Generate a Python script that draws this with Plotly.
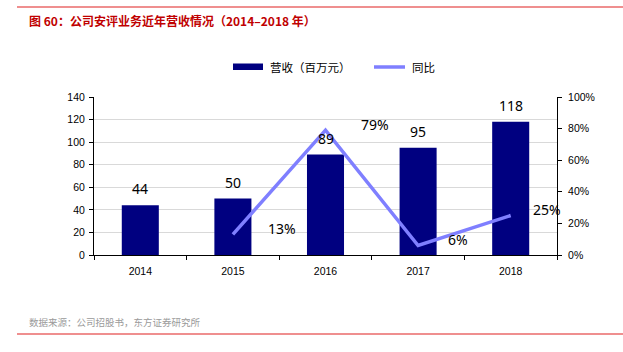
import plotly.graph_objects as go

years = ["2014", "2015", "2016", "2017", "2018"]
revenue = [44, 50, 89, 95, 118]
yoy_years = ["2015", "2016", "2017", "2018"]
yoy = [13, 79, 6, 25]
yoy_labels = ["13%", "79%", "6%", "25%"]

# label horizontal offsets (style only)
yoy_label_shift = [49, 49, 40, 36]

W, H = 623, 352
L, R, T, B = 94, 557, 97, 255

def px_x(p):
    return (p - L) / (R - L)

def px_y(p):
    return (B - p) / (B - T)

fig = go.Figure()
fig.add_trace(go.Bar(
    x=years, y=revenue, name="营收（百万元）",
    marker=dict(color="#000080", line=dict(width=0)), width=0.40,
    yaxis="y", showlegend=False,
))
fig.add_trace(go.Scatter(
    x=yoy_years, y=yoy, name="同比", mode="lines",
    line=dict(color="#7f7fff", width=3.5), yaxis="y2", showlegend=False,
))

lab_font = dict(family="Noto Sans, DejaVu Sans", size=14, color="#000000")
for x, v in zip(years, revenue):
    fig.add_annotation(x=years.index(x), y=v, yref="y", text=str(v), showarrow=False,
                       yanchor="bottom", yshift=5, font=lab_font)
for x, v, t, s in zip(yoy_years, yoy, yoy_labels, yoy_label_shift):
    fig.add_annotation(x=years.index(x), y=v, yref="y2", text=t, showarrow=False,
                       xshift=s, yshift=6, font=lab_font)

# title
fig.add_annotation(x=px_x(27), y=px_y(20), xref="paper", yref="paper",
                   text="<b>图 60：公司安评业务近年营收情况（2014–2018 年）</b>",
                   showarrow=False, xanchor="left", yanchor="middle",
                   font=dict(family="Noto Sans CJK SC", size=12, color="#c00000"))
# source
fig.add_annotation(x=px_x(27), y=px_y(322), xref="paper", yref="paper",
                   text="数据来源：公司招股书，东方证券研究所",
                   showarrow=False, xanchor="left", yanchor="middle",
                   font=dict(family="Noto Sans CJK SC", size=9.5, color="#9a9a9a"))
# red rules
for py in (7, 334):
    fig.add_shape(type="line", xref="paper", yref="paper",
                  x0=px_x(17), x1=px_x(623), y0=px_y(py), y1=px_y(py),
                  line=dict(color="#e02020", width=1.2))

# manual legend
fig.add_shape(type="rect", xref="paper", yref="paper",
              x0=px_x(233), x1=px_x(263), y0=px_y(63.5), y1=px_y(70),
              fillcolor="#000080", line=dict(width=0))
fig.add_annotation(x=px_x(268), y=px_y(67), xref="paper", yref="paper",
                   text="营收（百万元）", showarrow=False, xanchor="left", yanchor="middle",
                   font=dict(family="Noto Sans CJK SC", size=11.5, color="#000000"))
fig.add_shape(type="line", xref="paper", yref="paper",
              x0=px_x(374), x1=px_x(405), y0=px_y(67), y1=px_y(67),
              line=dict(color="#7f7fff", width=3.5))
fig.add_annotation(x=px_x(410), y=px_y(67), xref="paper", yref="paper",
                   text="同比", showarrow=False, xanchor="left", yanchor="middle",
                   font=dict(family="Noto Sans CJK SC", size=11.5, color="#000000"))

tick_font = dict(family="Liberation Sans, Arial", size=10.5, color="#000000")
fig.update_layout(
    width=W, height=H,
    margin=dict(l=L, r=W - R, t=T, b=H - B, pad=0),
    paper_bgcolor="white", plot_bgcolor="white",
    showlegend=False,
    xaxis=dict(type="category", range=[-0.5, 4.5], autorange=False, tickson="boundaries",
               ticks="outside", ticklen=4, tickangle=0, ticklabelstandoff=6,
               tickcolor="#000000", showline=True, linecolor="#000000", linewidth=1,
               tickfont=tick_font, showgrid=False),
    yaxis=dict(range=[0, 140], dtick=20, ticks="outside", ticklen=4, tickcolor="#000000",
               showline=True, linecolor="#000000", linewidth=1, tickfont=tick_font,
               ticklabelstandoff=2,
               showgrid=True, gridcolor="#d9d9d9", gridwidth=1, zeroline=False),
    yaxis2=dict(range=[0, 100], dtick=20, ticksuffix="%", overlaying="y", side="right",
                ticks="outside", ticklen=4, tickcolor="#000000", showline=True,
                linecolor="#000000", linewidth=1, tickfont=tick_font, showgrid=False,
                ticklabelstandoff=4, zeroline=False),
)

fig.write_html("out.html")
